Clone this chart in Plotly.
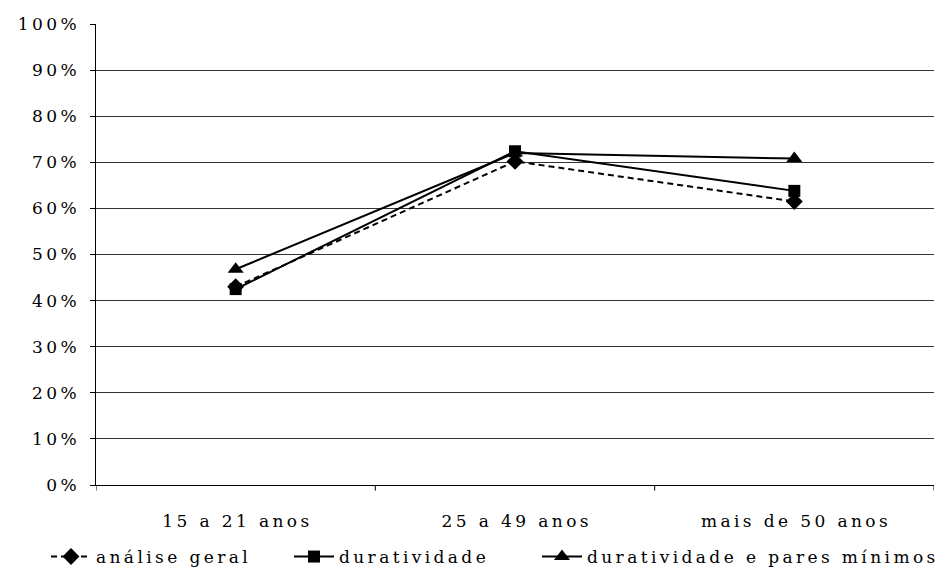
import plotly.graph_objects as go

# Age groups on the category axis
categories = ["15 a 21 anos", "25 a 49 anos", "mais de 50 anos"]

# Share of responses per age group (fractions of 1)
analise_geral = [0.430, 0.702, 0.615]
duratividade = [0.425, 0.724, 0.638]
duratividade_pares = [0.468, 0.720, 0.708]

series_names = ["análise geral", "duratividade", "duratividade e pares mínimos"]

# Y-axis tick values and labels
y_ticks = [i / 10 for i in range(11)]
y_tick_labels = [f"{i * 10}%" for i in range(11)]

GAP = "\u2009"


def spaced(text):
    """Open up the letter spacing of a label with thin spaces."""
    return GAP.join(text)


FONT = "DejaVu Serif"
W, H = 936, 569

fig = go.Figure()

styles = [
    dict(dash="6px,4px", symbol="diamond", size=13),
    dict(dash="solid", symbol="square", size=12),
    dict(dash="solid", symbol="triangle-up", size=14),
]

# Each series gets its own legend box so the entries can be spread along the bottom
legend_ids = ["legend", "legend2", "legend3"]
legend_left_px = [46, 289, 537]

for name, values, st, lid in zip(
    series_names, [analise_geral, duratividade, duratividade_pares], styles, legend_ids
):
    fig.add_trace(
        go.Scatter(
            x=categories,
            y=values,
            name=spaced(name),
            legend=lid,
            mode="lines+markers",
            line=dict(color="black", width=2, dash=st["dash"]),
            marker=dict(color="black", symbol=st["symbol"], size=st["size"]),
        )
    )

legend_layout = {}
for lid, left in zip(legend_ids, legend_left_px):
    legend_layout[lid] = dict(
        orientation="h",
        x=left / W,
        xanchor="left",
        xref="container",
        y=12 / H,
        yanchor="middle",
        yref="container",
        font=dict(family=FONT, size=17, color="black"),
        itemwidth=40,
        bgcolor="rgba(0,0,0,0)",
    )

fig.update_layout(
    width=W,
    height=H,
    margin=dict(l=96, r=2, t=24, b=84, autoexpand=False),
    paper_bgcolor="white",
    plot_bgcolor="white",
    font=dict(family=FONT, size=17, color="black"),
    showlegend=True,
    xaxis=dict(
        type="category",
        range=[-0.5, 2.5],
        tickmode="array",
        tickvals=categories,
        ticktext=[spaced(c) for c in categories],
        tickfont=dict(family=FONT, size=17, color="black"),
        showline=True,
        linecolor="black",
        linewidth=1,
        showgrid=False,
        ticks="",
        zeroline=False,
        ticklabelstandoff=21,
    ),
    yaxis=dict(
        range=[0, 1],
        tickmode="array",
        tickvals=y_ticks,
        ticktext=[spaced(t) for t in y_tick_labels],
        tickfont=dict(family=FONT, size=17, color="black"),
        showline=True,
        linecolor="black",
        linewidth=1,
        showgrid=True,
        gridcolor="#333333",
        gridwidth=1,
        ticks="outside",
        ticklen=5,
        tickcolor="black",
        zeroline=False,
        ticklabelstandoff=10,
    ),
    **legend_layout,
)

# Category boundary tick marks below the x axis
for xb in [-0.5, 0.5, 1.5, 2.5]:
    fig.add_shape(
        type="line",
        xref="x",
        yref="paper",
        x0=xb,
        x1=xb,
        y0=0,
        y1=-0.012,
        line=dict(color="black", width=1),
    )

fig.write_html("out.html")
